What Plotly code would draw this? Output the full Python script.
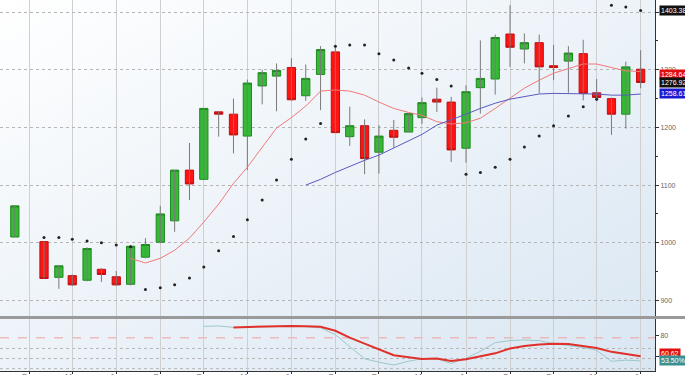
import base64
import plotly.graph_objects as go

# ---------------- data ----------------
months = ["2010-11-01",
          "2011-01-01", "2011-02-01", "2011-03-01", "2011-04-01", "2011-05-01", "2011-06-01",
          "2011-07-01", "2011-08-01", "2011-09-01", "2011-10-01", "2011-11-01", "2011-12-01",
          "2012-01-01", "2012-02-01", "2012-03-01", "2012-04-01", "2012-05-01", "2012-06-01",
          "2012-07-01", "2012-08-01", "2012-09-01", "2012-10-01", "2012-11-01", "2012-12-01",
          "2013-01-01", "2013-02-01", "2013-03-01", "2013-04-01", "2013-05-01", "2013-06-01",
          "2013-07-01", "2013-08-01", "2013-09-01", "2013-10-01", "2013-11-01", "2013-12-01",
          "2014-01-01", "2014-02-01", "2014-03-01", "2014-04-01", "2014-05-01", "2014-06-01"]

opens  = [1010, 1002, 940, 943, 935, 954, 941, 928, 975, 1001, 1038, 1126, 1110,
          1227, 1223, 1185, 1272, 1289, 1304, 1255, 1292, 1331, 1184, 1203, 1157,
          1195, 1192, 1217, 1249, 1244, 1164, 1269, 1284, 1362, 1336, 1347, 1307,
          1315, 1328, 1260, 1250, 1223, 1301]
highs  = [1064, 1002, 961, 945, 992, 956, 951, 996, 1008, 1064, 1126, 1173, 1233,
          1228, 1250, 1283, 1300, 1311, 1320, 1309, 1341, 1341, 1236, 1214, 1204,
          1213, 1224, 1252, 1269, 1253, 1273, 1351, 1361, 1412, 1363, 1361, 1343,
          1341, 1352, 1284, 1252, 1314, 1334]
lows   = [1010, 938, 920, 925, 933, 932, 925, 926, 973, 999, 1019, 1074, 1110,
          1184, 1155, 1126, 1240, 1228, 1246, 1246, 1230, 1191, 1168, 1119, 1120,
          1165, 1192, 1206, 1227, 1140, 1139, 1224, 1257, 1305, 1311, 1259, 1282,
          1260, 1247, 1246, 1187, 1198, 1268]
closes = [1064, 938, 960, 927, 990, 945, 927, 994, 997, 1050, 1126, 1102, 1233,
          1223, 1187, 1277, 1295, 1299, 1248, 1285, 1335, 1191, 1203, 1146, 1185,
          1183, 1224, 1243, 1244, 1161, 1262, 1285, 1356, 1339, 1347, 1305, 1304,
          1329, 1259, 1252, 1223, 1305, 1278]

sar = [None, 1009, 1009, 1006, 1003, 1000, 996, 993, 919, 922, 927, 939, 958,
       986, 1011, 1040, 1074, 1109, 1145, 1180, 1207, 1341, 1343, 1343, 1328,
       1317, 1303, 1294, 1283, 1272, 1119, 1122, 1131, 1145, 1166, 1185, 1203,
       1220, 1236, 1249, 1412, 1409, 1403]

ma_fast = [None, None, None, None, None, None, None, 973, 965, 973, 987, 1008, 1036,
           1067, 1103, 1131, 1166, 1199, 1217, 1237, 1263, 1265, 1263, 1256, 1244,
           1233, 1226, 1221, 1210, 1206, 1208, 1216, 1233, 1250, 1268, 1282, 1294,
           1302, 1310, 1310, 1304, 1298, 1297]
ma_slow = [None] * 19 + [1100, 1110, 1122, 1133, 1143, 1152, 1164, 1176, 1188, 1204,
                         1213, 1223, 1233, 1242, 1249, 1254, 1258, 1259, 1259, 1259,
                         1258, 1256, 1256, 1258]

osc_signal = [None] * 12 + [88.8, 89.2, 87.8, 88.0, 88.5, 89.0, 89.0, 88.5, 87.4, 80.9,
                            69.9, 58.3, 55.1, 52.4, 56.0, 58.3, 58.3, 53.9, 58.8, 65.3,
                            73.5, 75.4, 76.0, 75.4, 72.6, 70.8, 68.9, 66.2, 56.0, 57.0, 56.3]
osc_main = [None] * 14 + [87.8, 88.3, 88.8, 89.2, 89.2, 88.8, 88.3, 84.6, 78.2, 72.6,
                          67.1, 61.6, 59.7, 58.2, 58.5, 56.3, 57.9, 60.6, 63.4, 68.0,
                          70.3, 71.7, 72.4, 72.2, 70.3, 68.5, 64.8, 62.5, 60.6]

price_ticks = [900, 1000, 1100, 1200, 1300, 1400]
osc_ticks = [60, 80]
osc_grid = [68, 58.5, 49]
osc_level = 78
label_sar, label_close, label_last, label_slow = "1403.38", "1284.64", "1276.92", "1258.61"
label_osc_main, label_osc_signal = "60.62", "53.50%"

# ---------------- figure ----------------
fig = go.Figure()

# wicks
wx, wy = [], []
for d, h, l in zip(months, highs, lows):
    wx += [d, d, None]
    wy += [l, h, None]
fig.add_trace(go.Scatter(x=wx, y=wy, mode="lines", line=dict(color="#7a7a7a", width=1),
                         hoverinfo="skip", showlegend=False, xaxis="x", yaxis="y"))

body_hi = [max(o, c) for o, c in zip(opens, closes)]
body_lo = [min(o, c) for o, c in zip(opens, closes)]
fig.add_trace(go.Candlestick(
    x=months, open=opens, high=body_hi, low=body_lo, close=closes,
    increasing=dict(fillcolor="#36b936", line=dict(color="#1f8a1f", width=1)),
    decreasing=dict(fillcolor="#ff1414", line=dict(color="#c01010", width=1)),
    showlegend=False, xaxis="x", yaxis="y"))

fig.add_trace(go.Scatter(x=months, y=ma_fast, mode="lines",
                         line=dict(color="#f07a7a", width=1), showlegend=False,
                         xaxis="x", yaxis="y"))
fig.add_trace(go.Scatter(x=months, y=ma_slow, mode="lines",
                         line=dict(color="#5a5ac0", width=1), showlegend=False,
                         xaxis="x", yaxis="y"))
fig.add_trace(go.Scatter(x=months, y=sar, mode="markers",
                         marker=dict(color="#222222", size=3), showlegend=False,
                         xaxis="x", yaxis="y"))

fig.add_trace(go.Scatter(x=months, y=osc_signal, mode="lines",
                         line=dict(color="#9cc9c9", width=1), showlegend=False,
                         xaxis="x2", yaxis="y2"))
fig.add_trace(go.Scatter(x=months, y=osc_main, mode="lines",
                         line=dict(color="#e0302a", width=2), showlegend=False,
                         xaxis="x2", yaxis="y2"))

H_PLOT = 371.0
main_bottom = (H_PLOT - 316) / H_PLOT
low_top = (H_PLOT - 319) / H_PLOT

xcommon = dict(type="date", range=["2010-10-01", "2014-07-01"], tick0="2010-12-01",
               dtick="M3", showgrid=True, gridcolor="#cfcfcf", gridwidth=1, zeroline=False,
               automargin=False)

fig.update_layout(
    width=685, height=375,
    margin=dict(l=0, r=30, t=0, b=4, autoexpand=False),
    paper_bgcolor="#ffffff", plot_bgcolor="rgba(0,0,0,0)",
    boxgap=0.12,
    font=dict(family="Liberation Sans, Arial, sans-serif", size=8, color="#666"),
    xaxis=dict(**xcommon, anchor="y", showticklabels=False, ticks="",
               rangeslider=dict(visible=False), domain=[0, 1]),
    xaxis2=dict(**xcommon, anchor="y2", matches="x", showticklabels=True, tickformat="%b",
                ticks="outside", ticklen=2, tickcolor="#333", showline=True,
                linecolor="#333", linewidth=1, tickfont=dict(size=8, color="#666"),
                ticklabelstandoff=-5, domain=[0, 1]),
    yaxis=dict(domain=[main_bottom, 1], side="right", range=[873, 1421],
               tickvals=price_ticks, showgrid=True, gridcolor="#b5b5b5", griddash="dot",
               zeroline=False, showline=True, linecolor="#333", linewidth=1,
               ticks="outside", ticklen=3, tickcolor="#333", automargin=False,
               minor=dict(dtick=50, ticks="outside", ticklen=2, tickcolor="#333", showgrid=False),
               tickfont=dict(size=7, color="#666"), anchor="x"),
    yaxis2=dict(domain=[0, low_top], side="right", range=[46.8, 95.7],
                tickvals=osc_ticks, showgrid=False,
                zeroline=False, showline=True, linecolor="#333", linewidth=1,
                ticks="outside", ticklen=3, tickcolor="#333", automargin=False,
                tickfont=dict(size=7, color="#666"), anchor="x2"),
)

# soft background gradient behind both panels
svg = ('<svg xmlns="http://www.w3.org/2000/svg" width="100" height="100" '
       'preserveAspectRatio="none"><defs><linearGradient id="g" x1="0" y1="0" x2="1" y2="1">'
       '<stop offset="0" stop-color="#ffffff"/><stop offset="1" stop-color="#d9e6f2"/>'
       '</linearGradient></defs><rect width="100" height="100" fill="url(#g)"/></svg>')
fig.add_layout_image(source="data:image/svg+xml;base64," + base64.b64encode(svg.encode()).decode(),
                     xref="paper", yref="paper", x=0, y=1, sizex=1, sizey=1,
                     xanchor="left", yanchor="top", sizing="stretch", layer="below")

# lower-panel reference lines
for g in osc_grid:
    fig.add_shape(type="line", xref="x2 domain", yref="y2", x0=0, x1=1, y0=g, y1=g,
                  line=dict(color="#b5b5b5", width=1, dash="dot"), layer="below")
fig.add_shape(type="line", xref="x2 domain", yref="y2", x0=0, x1=1, y0=osc_level, y1=osc_level,
              line=dict(color="#f0a0a0", width=1, dash="dash"), layer="below")

# separator between the panels
fig.add_shape(type="rect", xref="paper", yref="paper", x0=0, x1=685 / 655,
              y0=low_top, y1=main_bottom, fillcolor="#9a9a9a", line=dict(width=0),
              layer="above")

def tag(text, y, yref, bg):
    fig.add_annotation(text=text, x=1, xref="paper", y=y, yref=yref, xanchor="left",
                       xshift=4, showarrow=False, bgcolor=bg, borderpad=1,
                       font=dict(size=7, color="white",
                                 family="Liberation Sans, Arial, sans-serif"))

tag(label_sar, sar[-1], "y", "#111111")
tag(label_close, 1292, "y", "#e01010")
tag(label_last, closes[-1], "y", "#111111")
tag(label_slow, ma_slow[-1], "y", "#1a1ad0")
tag(label_osc_main, 63.5, "y2", "#e01010")
tag(label_osc_signal, 57, "y2", "#3a9090")

fig.write_html("out.html", config={"displayModeBar": False},
               post_script="document.body.style.margin='0';")
